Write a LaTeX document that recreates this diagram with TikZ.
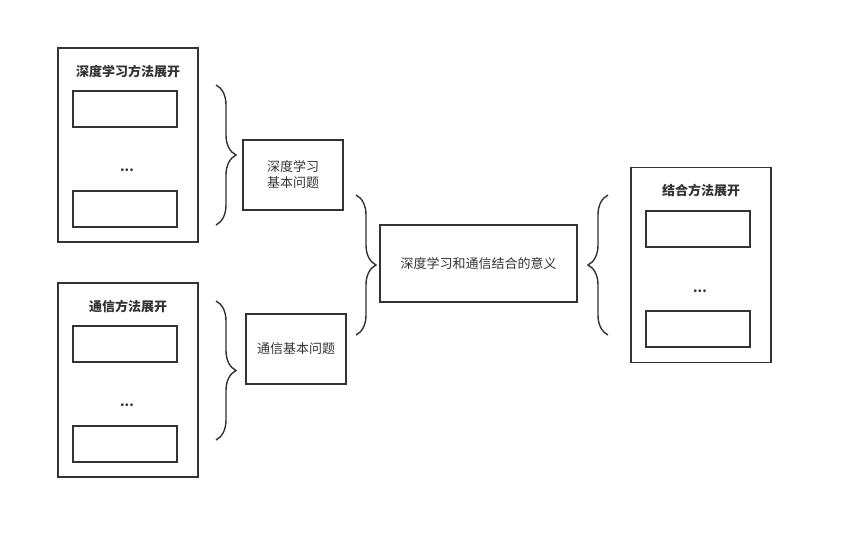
\documentclass[tikz,border=0pt]{standalone}
\usepackage{fontspec}
\setmainfont{Noto Sans CJK SC}
\usepackage{tikz}
\usetikzlibrary{decorations.pathreplacing}
\definecolor{LineGray}{RGB}{51,51,51}
\definecolor{TextGray}{RGB}{51,51,51}

\begin{document}
\begin{tikzpicture}[x=1pt,y=-1pt,
    box/.style={draw=LineGray,line width=1.3pt,inner sep=0pt,
        text=TextGray,font=\fontsize{13}{16}\selectfont,align=center},
    title/.style={text=TextGray,font=\fontsize{13}{16}\selectfont\bfseries},
    dots/.style={text=TextGray,font=\fontsize{13}{16}\selectfont\bfseries},
    curly/.style={draw=LineGray,line width=1.4pt,
        decorate,decoration={brace,amplitude=20pt,aspect=0.5}}]
\useasboundingbox (0,0) rectangle (843,540);

\node[box,minimum width=140pt,minimum height=194pt] (dlOuter) at (128,145) {};
\node[title] (dlTitle) at (128,72) {深度学习方法展开};
\node[box,minimum width=104pt,minimum height=36pt] (dlTop) at (125,109) {};
\node[dots] (dlDots) at (127,170) {...};
\node[box,minimum width=104pt,minimum height=36pt] (dlBot) at (125,209) {};

\node[box,minimum width=140pt,minimum height=194pt] (comOuter) at (128,380) {};
\node[title] (comTitle) at (128,307) {通信方法展开};
\node[box,minimum width=104pt,minimum height=36pt] (comTop) at (125,344) {};
\node[dots] (comDots) at (127,405) {...};
\node[box,minimum width=104pt,minimum height=36pt] (comBot) at (125,444) {};

\node[box,minimum width=100pt,minimum height=70pt] (dlBasic) at (293,175) {深度学习\\基本问题};
\node[box,minimum width=100pt,minimum height=70pt] (comBasic) at (296,349) {通信基本问题};

\node[box,minimum width=197pt,minimum height=77pt] (meaning) at (478.5,263.5) {深度学习和通信结合的意义};

\node[box,minimum width=140pt,minimum height=195pt] (mixOuter) at (701,265) {};
\node[title] (mixTitle) at (701,191) {结合方法展开};
\node[box,minimum width=104pt,minimum height=36pt] (mixTop) at (698,229) {};
\node[dots] (mixDots) at (700,291) {...};
\node[box,minimum width=104pt,minimum height=36pt] (mixBot) at (698,329) {};

\draw[curly] (216,85) -- (216,225);
\draw[curly] (216,301) -- (216,440);
\draw[curly] (356,195) -- (356,335);
\draw[curly] (608,335) -- (608,195);
\end{tikzpicture}
\end{document}
